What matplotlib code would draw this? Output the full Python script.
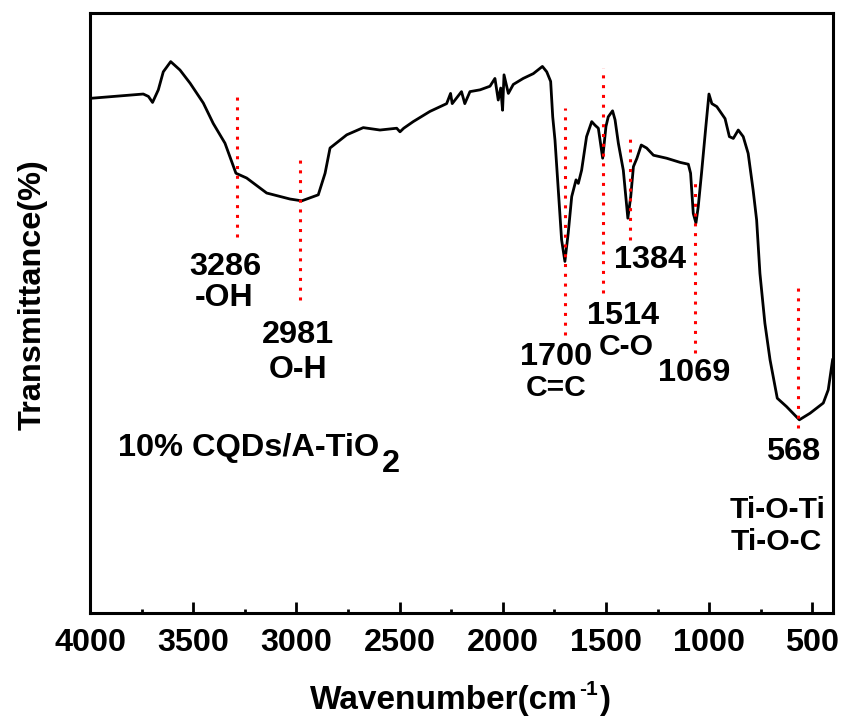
import numpy as np
import matplotlib
matplotlib.use("Agg")
from matplotlib import pyplot as plt
from matplotlib.ticker import MultipleLocator

plt.rcParams['font.family'] = ['Liberation Sans', 'DejaVu Sans']
plt.rcParams['font.weight'] = 'bold'

## FTIR spectrum (wavenumber, transmittance in arbitrary %)
wavenumber = [3992, 3742, 3717, 3697, 3669, 3645, 3609, 3564, 3515, 3451,
              3403, 3346, 3293, 3241, 3144, 3031, 2974, 2894, 2861, 2837,
              2756, 2676, 2595, 2514, 2498, 2480, 2434, 2353, 2272, 2253,
              2245, 2200, 2184, 2159, 2110, 2062, 2038, 2022, 2010, 2001,
              1994, 1973, 1949, 1901, 1852, 1808, 1787, 1768, 1758, 1747,
              1731, 1715, 1699, 1683, 1666, 1645, 1634, 1618, 1594, 1569,
              1553, 1537, 1516, 1500, 1489, 1468, 1456, 1440, 1416, 1394,
              1380, 1367, 1350, 1329, 1303, 1270, 1206, 1140, 1101, 1090,
              1077, 1064, 1053, 1037, 1016, 1001, 987, 963, 923, 902,
              883, 859, 835, 811, 787, 770, 754, 730, 705, 670,
              625, 563, 511, 447, 423, 402]
transmittance = [85.8, 86.5, 86.1, 85.1, 87.2, 90.2, 91.9, 90.5, 88.3, 85.0,
                 81.6, 78.3, 73.3, 72.5, 70.0, 69.0, 68.7, 69.7, 73.3, 77.5,
                 79.7, 80.9, 80.5, 80.8, 80.2, 80.8, 81.9, 83.6, 84.9, 86.6,
                 84.9, 86.9, 84.9, 86.9, 87.2, 87.8, 89.1, 85.5, 87.5, 83.8,
                 89.7, 86.6, 88.1, 89.1, 89.9, 91.1, 90.2, 88.6, 82.7, 78.8,
                 70.5, 62.2, 58.6, 63.3, 69.4, 72.2, 71.6, 73.8, 79.4, 81.9,
                 81.3, 80.8, 75.8, 81.1, 82.7, 83.7, 82.2, 78.3, 73.8, 65.8,
                 69.4, 74.4, 75.8, 78.0, 77.5, 76.3, 75.8, 75.1, 74.8, 73.3,
                 66.6, 65.0, 67.7, 73.3, 81.1, 86.5, 84.9, 84.4, 82.4, 79.4,
                 79.1, 80.5, 79.4, 76.6, 70.5, 65.5, 56.6, 48.3, 42.2, 35.8,
                 34.4, 32.2, 33.3, 35.0, 37.2, 42.2]

# marked bands: position, top and bottom of the red dotted guide
peaks = [3286, 2981, 1700, 1514, 1384, 1069, 568]
guide_top = [86.0, 75.7, 84.2, 90.8, 79.7, 71.8, 54.2]
guide_bottom = [62.7, 52.2, 46.3, 53.3, 62.2, 43.3, 30.8]

sample = '10% CQDs/A-TiO'

fig = plt.figure(figsize=(8.42, 7.2), dpi=100)
ax = fig.add_axes([0.1069, 0.1486, 0.8824, 0.8333])

ax.plot(wavenumber, transmittance, color='black', lw=2.0)

for p, top, bot in zip(peaks, guide_top, guide_bottom):
    ax.plot([p, p], [bot, top], color='red', lw=2.2, linestyle=(0, (1, 2.2)))

# band labels
ax.text(3346, 57.7, '3286', fontsize=23.4, ha='center', va='center')
ax.text(3351, 52.5, '-OH', fontsize=23, ha='center', va='center')
ax.text(2992, 46.3, '2981', fontsize=23.4, ha='center', va='center')
ax.text(2992, 40.5, 'O-H', fontsize=23, ha='center', va='center')
ax.text(1742, 42.7, '1700', fontsize=23.4, ha='center', va='center')
ax.text(1742, 37.5, 'C=C', fontsize=21.6, ha='center', va='center')
ax.text(1419, 49.5, '1514', fontsize=23.4, ha='center', va='center')
ax.text(1403, 44.3, 'C-O', fontsize=21.6, ha='center', va='center')
ax.text(1287, 58.8, '1384', fontsize=23.4, ha='center', va='center')
ax.text(1072, 40.0, '1069', fontsize=23.4, ha='center', va='center')
ax.text(594, 26.8, '568', fontsize=23.4, ha='center', va='center')
ax.text(668, 17.2, 'Ti-O-Ti', fontsize=21.6, ha='center', va='center')
ax.text(676, 11.8, 'Ti-O-C', fontsize=21.6, ha='center', va='center')

# sample name with a full size, lowered "2"
t = ax.text(3864, 27.5, sample, fontsize=23.4, ha='left', va='center')
ax.annotate('2', xy=(1, 0), xycoords=t, xytext=(2, -6.5), textcoords='offset points',
            fontsize=23.4, ha='left', va='baseline')

ax.set_xlim(4000, 400)
ax.set_ylim(0, 100)
ax.xaxis.set_major_locator(MultipleLocator(500))
ax.xaxis.set_minor_locator(MultipleLocator(250))
ax.set_yticks([])
ax.tick_params(axis='x', which='major', direction='in', length=8, width=2,
               labelsize=23.3, pad=11)
ax.tick_params(axis='x', which='minor', direction='in', length=3.2, width=2)
for s in ax.spines.values():
    s.set_linewidth(2.2)

ax.set_ylabel('Transmittance(%)', fontsize=23.4, fontweight='bold')
ax.yaxis.set_label_coords(-0.057, 0.53)

# x label built from pieces so the superscript keeps a short hyphen
xl = fig.text(310 / 842, 11 / 720, 'Wavenumber(cm', fontsize=24, ha='left', va='baseline')
sup = ax.annotate('-1', xy=(1, 0), xycoords=xl, xytext=(1, 12), textcoords='offset points',
                  fontsize=15, ha='left', va='bottom')
ax.annotate(')', xy=(1, 0), xycoords=(sup, xl), xytext=(1, 0), textcoords='offset points',
            fontsize=24, ha='left', va='bottom')

fig.savefig('out.png', dpi=100)
